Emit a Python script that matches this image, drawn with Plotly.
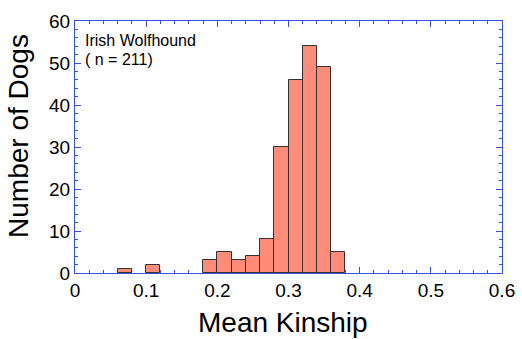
import plotly.graph_objects as go

# Histogram of mean kinship values, bin width 0.02
bin_left = [0.06, 0.10, 0.18, 0.20, 0.22, 0.24, 0.26, 0.28, 0.30, 0.32, 0.34, 0.36]
counts = [1, 2, 3, 5, 3, 4, 8, 30, 46, 54, 49, 5]
bin_width = 0.02

x_ticks = [0, 0.1, 0.2, 0.3, 0.4, 0.5, 0.6]
x_tick_text = ["0", "0.1", "0.2", "0.3", "0.4", "0.5", "0.6"]
y_ticks = [0, 10, 20, 30, 40, 50, 60]

axis_blue = "#3A4FE6"
font_family = "Liberation Sans, Arial, Helvetica, sans-serif"

fig = go.Figure()
fig.add_trace(go.Bar(
    x=[b + bin_width / 2 for b in bin_left],
    y=counts,
    width=bin_width,
    marker=dict(color="#FF8B78", line=dict(color="#333333", width=1)),
))

axis_common = dict(
    showline=True, linecolor=axis_blue, linewidth=1, mirror="allticks",
    ticks="inside", ticklen=6, tickcolor=axis_blue, tickwidth=1,
    showgrid=False, zeroline=False, automargin=False, layer="below traces",
    tickfont=dict(size=19, color="black", family=font_family),
)

fig.update_xaxes(
    range=[0, 0.6], tickvals=x_ticks, ticktext=x_tick_text,
    minor=dict(ticks="inside", dtick=0.02, ticklen=3, tickcolor=axis_blue, tickwidth=1),
    **axis_common,
)
fig.update_yaxes(
    range=[0, 60], tickvals=y_ticks,
    minor=dict(ticks="inside", dtick=2, ticklen=3, tickcolor=axis_blue, tickwidth=1),
    **axis_common,
)

title_font = dict(size=28, color="black", family=font_family)
fig.add_annotation(x=0.487, y=-0.198, xref="paper", yref="paper", xanchor="center", yanchor="middle",
                   text="Mean Kinship", showarrow=False, font=title_font)
fig.add_annotation(x=-0.131, y=0.544, xref="paper", yref="paper", xanchor="center", yanchor="middle",
                   text="Number of Dogs", textangle=-90, showarrow=False, font=title_font)

label_font = dict(size=16, color="black", family=font_family)
fig.add_annotation(x=0.022, y=0.962, xref="paper", yref="paper", xanchor="left", yanchor="top",
                   text="Irish Wolfhound", showarrow=False, font=label_font, borderpad=0)
fig.add_annotation(x=0.022, y=0.885, xref="paper", yref="paper", xanchor="left", yanchor="top",
                   text="( n = 211)", showarrow=False, font=label_font, borderpad=0)

fig.update_layout(
    width=522, height=339,
    margin=dict(l=75, r=20, t=21, b=66),
    plot_bgcolor="white", paper_bgcolor="white",
    showlegend=False, bargap=0,
)

fig.write_html("out.html")
